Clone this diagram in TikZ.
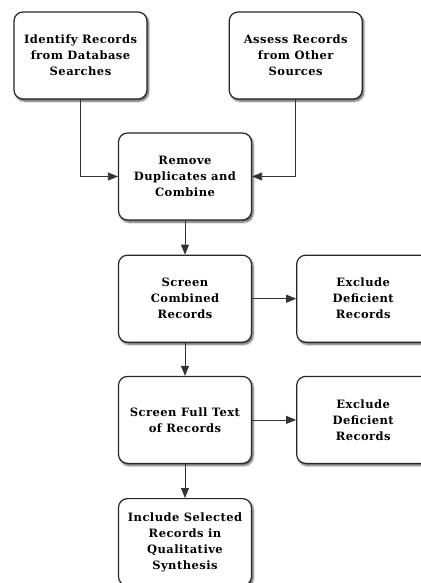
\documentclass[tikz,border=0pt]{standalone}
\usepackage{fontspec}
\setmainfont{DejaVu Serif}[LetterSpace=4]
\usetikzlibrary{positioning, arrows.meta, shadows.blur}
\tikzset{
  stage/.style={
    draw=black!85,
    line width=1.2pt,
    rectangle,
    rounded corners=9pt,
    minimum width=133pt,
    minimum height=87pt,
    align=center,
    fill=white,
    font=\bfseries\fontsize{11.5}{16}\selectfont,
    blur shadow={shadow xshift=1.5pt, shadow yshift=-2pt, shadow blur steps=6, shadow opacity=70}
  },
  flow/.style={
    draw=black!80,
    line width=0.8pt,
    -{Triangle[length=10pt, width=8pt]}
  }
}
\begin{document}
\begin{tikzpicture}[x=1pt, y=-1pt]
        \useasboundingbox (0,0) rectangle (420,583);
        \node[stage] (ident) at (80.5,55.5) {Identify Records\\from Database\\Searches};
        \node[stage, right=81pt of ident] (assess) {Assess Records\\from Other\\Sources};
        \node[stage] (remove) at (185,176.5) {Remove\\Duplicates and\\Combine};
        \node[stage, below=34pt of remove] (screen) {Screen\\Combined\\Records};
        \node[stage, right=44pt of screen] (excl1) {Exclude\\Deficient\\Records};
        \node[stage, below=33pt of screen] (fulltext) {Screen Full Text\\of Records};
        \node[stage, right=44pt of fulltext] (excl2) {Exclude\\Deficient\\Records};
        \node[stage, below=34pt of fulltext] (include) {Include Selected\\Records in\\Qualitative\\Synthesis};

        \draw[flow] (ident) |- (remove);
        \draw[flow] (assess) |- (remove);
        \draw[flow] (remove) -- (screen);
        \draw[flow] (screen) -- (excl1);
        \draw[flow] (screen) -- (fulltext);
        \draw[flow] (fulltext) -- (excl2);
        \draw[flow] (fulltext) -- (include);
      \end{tikzpicture}
\end{document}
